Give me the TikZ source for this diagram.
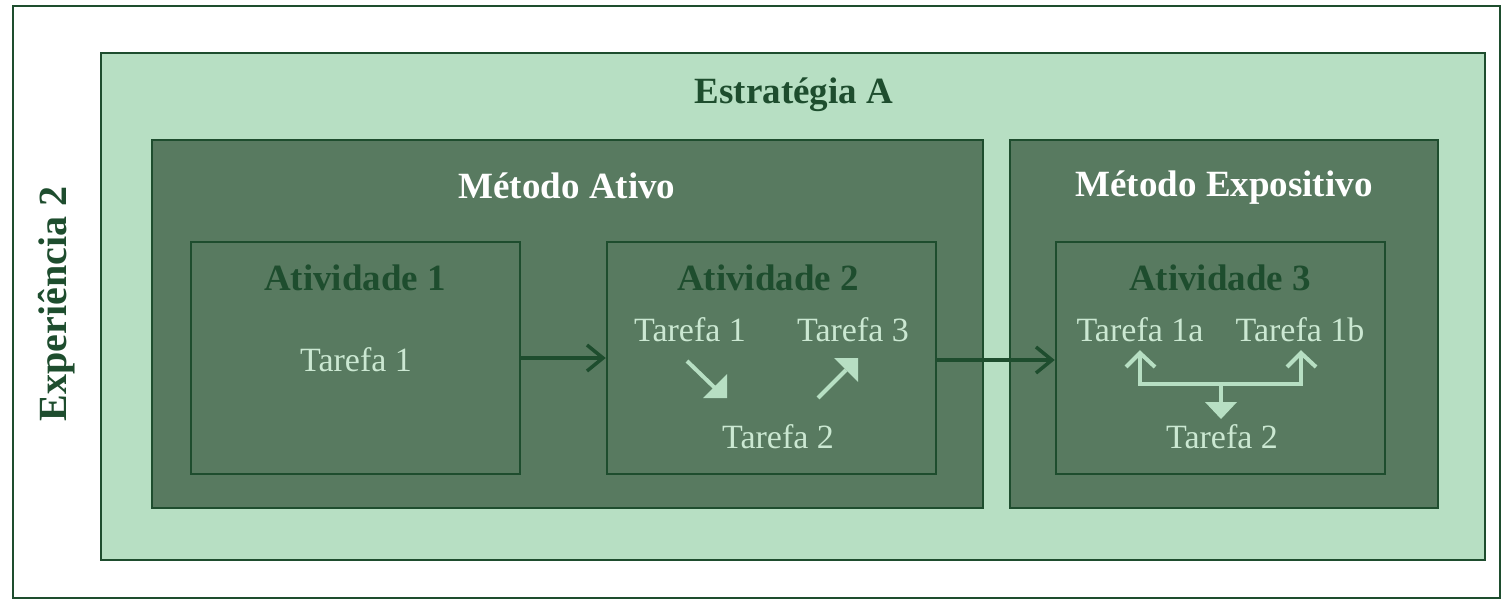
\documentclass[tikz,border=0pt]{standalone}
\usepackage{fontspec}
\setmainfont{Liberation Serif}
\usetikzlibrary{arrows.meta}
\definecolor{dkg}{HTML}{1E4D2E}
\definecolor{mdg}{HTML}{587A60}
\definecolor{ltg}{HTML}{B7DFC3}
\definecolor{tfg}{HTML}{CBE8D2}
\tikzset{
  frame/.style={draw=dkg, line width=2.5pt, inner sep=0pt},
  hd/.style={font=\bfseries\fontsize{37}{37}\selectfont, text=dkg},
  mhd/.style={font=\bfseries\fontsize{37}{37}\selectfont, text=white},
  tf/.style={font=\fontsize{34}{34}\selectfont, text=tfg},
  bigarrow/.style={draw=dkg, line width=3.5pt, -{Straight Barb[length=16pt,width=26pt,line width=3.5pt]}},
  smallline/.style={draw=ltg, line width=4pt},
  headfill/.style={fill=ltg, draw=none},
  chev/.style={draw=ltg, line width=4pt},
}
\begin{document}
\begin{tikzpicture}[x=1pt,y=-1pt]
\useasboundingbox (0,0) rectangle (1503,602);
\node[frame, fill=white, minimum width=1487pt, minimum height=592pt] (outer) at (756.5,302) {};
\node[frame, fill=ltg, minimum width=1384pt, minimum height=507pt] (strat) at (793,306.5) {};
\node[frame, fill=mdg, minimum width=831pt, minimum height=368pt] (mat) at (567.5,324) {};
\node[frame, fill=mdg, minimum width=428pt, minimum height=368pt] (mex) at (1224,324) {};
\node[frame, minimum width=329pt, minimum height=232pt] (a1) at (355.5,358) {};
\node[frame, minimum width=329pt, minimum height=232pt] (a2) at (771.5,358) {};
\node[frame, minimum width=329pt, minimum height=232pt] (a3) at (1220.5,358) {};

\node[hd, rotate=90, font=\bfseries\fontsize{40}{40}\selectfont] (exp) at (57,304) {Experiência 2};
\node[hd] (tstrat) at (794,95) {Estratégia A};
\node[mhd] (tmat) at (567,186) {Método Ativo};
\node[mhd] (tmex) at (1224,188) {Método Expositivo};
\node[hd] (ta1) at (355,278) {Atividade 1};
\node[hd] (ta2) at (768,278) {Atividade 2};
\node[hd] (ta3) at (1220,278) {Atividade 3};

\node[tf] (t11) at (356,360) {Tarefa 1};
\node[tf] (t21) at (690,330) {Tarefa 1};
\node[tf] (t23) at (853,330) {Tarefa 3};
\node[tf] (t22) at (778,437) {Tarefa 2};
\node[tf] (t31a) at (1140,330) {Tarefa 1a};
\node[tf] (t31b) at (1300,330) {Tarefa 1b};
\node[tf] (t32) at (1222,437) {Tarefa 2};

\draw[bigarrow] (a1.east) -- (a2.west);
\draw[bigarrow] (a2.east |- 0,360) -- (a3.west |- 0,360);

% down-right arrow
\coordinate (d1s) at (687,361);
\coordinate (d1e) at (716,389);
\draw[smallline] (d1s) -- (d1e);
\fill[headfill] (727,398) -- (703,398) -- (727,374) -- cycle;
% up-right arrow
\coordinate (d2s) at (818,398);
\coordinate (d2e) at (846,370);
\draw[smallline] (d2s) -- (d2e);
\fill[headfill] (858,358) -- (834,358) -- (858,382) -- cycle;

\coordinate (bl) at (1140,384);
\coordinate (br) at (1301,384);
\coordinate (bm) at (1221,384);
\coordinate (blt) at (1140,353);
\coordinate (brt) at (1301,353);
\draw[chev, line join=miter] (blt) -- (bl) -- (br) -- (brt);
\draw[chev] (1126,367) -- (blt) -- (1155,367);
\draw[chev] (1287,367) -- (brt) -- (1316,367);
\draw[smallline] (bm) -- (1221,403);
\fill[headfill] (1205,402) -- (1237,402) -- (1221,419) -- cycle;
\end{tikzpicture}
\end{document}
